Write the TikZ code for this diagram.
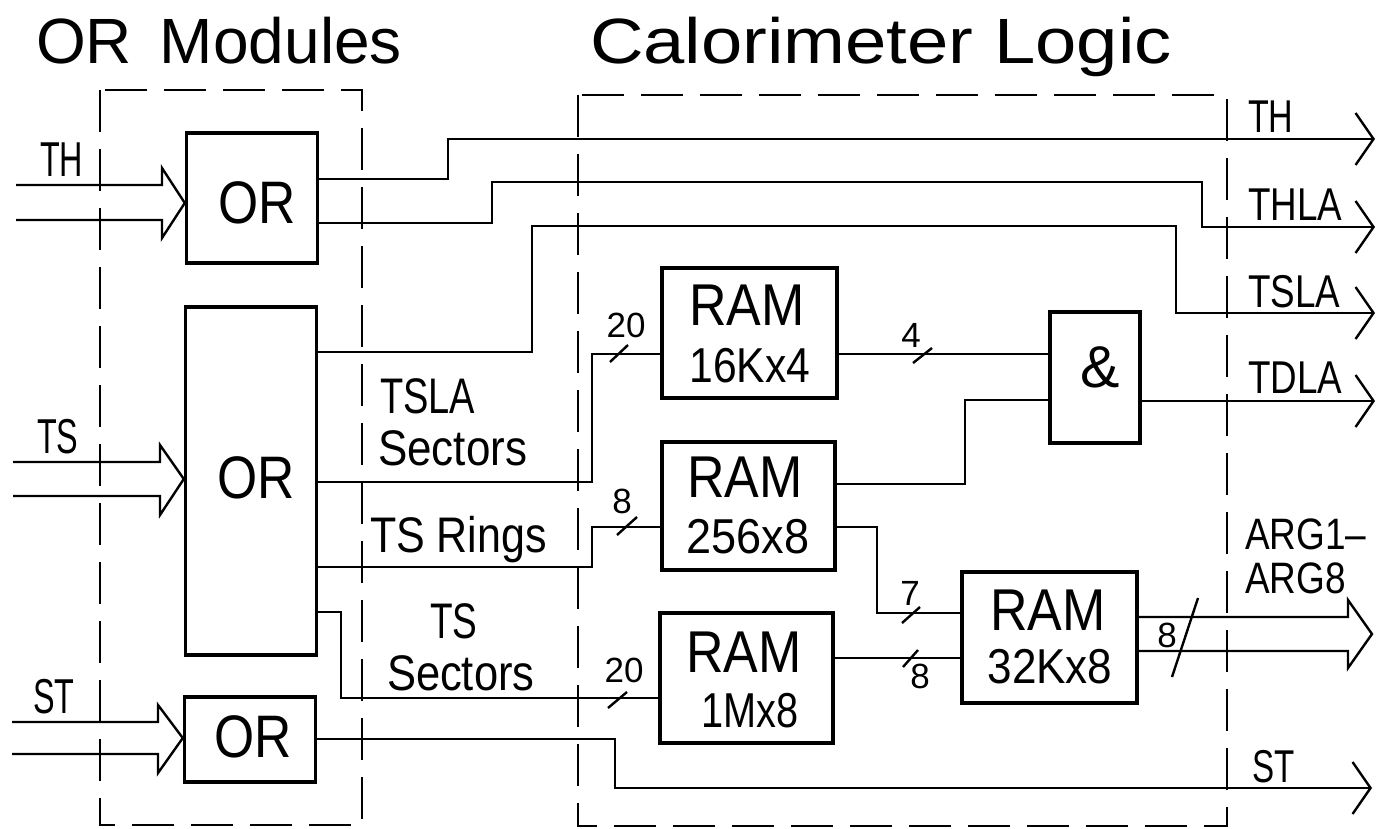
\documentclass[tikz,border=0pt]{standalone}
\usepackage{fontspec}
\setmainfont{Liberation Sans}
\usepackage{graphicx}
\usetikzlibrary{arrows.meta}
\newcommand\hsc[2]{\scalebox{#1}[1]{#2}}
\begin{document}
\begin{tikzpicture}[x=1pt,y=-1pt,
  blk/.style={draw,line width=3.4pt,inner sep=0pt},
  sig/.style={line width=2.4pt},
  oarr/.style={sig,-{Straight Barb[length=18pt,width=52pt,line width=2.4pt]}},
  frame/.style={line width=2.6pt,dash pattern=on 42pt off 17pt},
  t/.style={inner sep=0pt,outer sep=0pt},
  fTitle/.style={t,font=\fontsize{64}{64}\selectfont},
  fOR/.style={t,font=\fontsize{60}{60}\selectfont},
  fRAM/.style={t,font=\fontsize{59}{59}\selectfont},
  fSub/.style={t,font=\fontsize{49}{49}\selectfont},
  fLab/.style={t,font=\fontsize{50}{50}\selectfont},
  fOut/.style={t,font=\fontsize{46}{46}\selectfont},
  fArg/.style={t,font=\fontsize{44}{44}\selectfont},
  fIn/.style={t,font=\fontsize{49}{49}\selectfont},
  fNum/.style={t,font=\fontsize{35}{35}\selectfont},
]
\fill[white] (0,0) rectangle (1378,829);
\useasboundingbox (0,0) rectangle (1378,829);

% dashed frames
\draw[frame] (100,90) rectangle (362,825);
\draw[frame] (578,95) rectangle (1227,826);

% titles
\node[fTitle,anchor=base west] (tOR) at (36,64) {\hsc{1.0}{OR\hspace{28pt}Modules}};
\node[fTitle,anchor=base west] (tCal) at (590,64) {\hsc{1.16}{Calorimeter Logic}};

% boxes
\node[blk,minimum width=131pt,minimum height=130pt] (OR1) at (252,198) {};
\node[blk,minimum width=131pt,minimum height=348pt] (OR2) at (251,481) {};
\node[blk,minimum width=131pt,minimum height=85pt] (OR3) at (250,739.5) {};
\node[blk,minimum width=175pt,minimum height=130pt] (R1) at (749.5,333) {};
\node[blk,minimum width=173pt,minimum height=128pt] (R2) at (748.5,506) {};
\node[blk,minimum width=173pt,minimum height=130pt] (R3) at (746.5,678) {};
\node[blk,minimum width=175pt,minimum height=131pt] (R4) at (1049.5,637.5) {};
\node[blk,minimum width=90pt,minimum height=131pt] (AND) at (1095,377.5) {};

% box texts
\node[fOR,anchor=base] (tOR1) at (257,223) {\hsc{.86}{OR}};
\node[fOR,anchor=base] (tOR2) at (256,498) {\hsc{.86}{OR}};
\node[fOR,anchor=base] (tOR3) at (253,757) {\hsc{.86}{OR}};
\node[fRAM,anchor=base] (tR1a) at (747,325) {\hsc{.88}{RAM}};
\node[fSub,anchor=base] (tR1b) at (750,382) {\hsc{.87}{16Kx4}};
\node[fRAM,anchor=base] (tR2a) at (745,497) {\hsc{.88}{RAM}};
\node[fSub,anchor=base] (tR2b) at (748,553) {\hsc{.92}{256x8}};
\node[fRAM,anchor=base] (tR3a) at (744,672) {\hsc{.88}{RAM}};
\node[fSub,anchor=base] (tR3b) at (750,727) {\hsc{.81}{1Mx8}};
\node[fRAM,anchor=base] (tR4a) at (1048,630) {\hsc{.88}{RAM}};
\node[fSub,anchor=base] (tR4b) at (1050,683) {\hsc{.9}{32Kx8}};
\node[fRAM,anchor=base] (tAND) at (1100,387) {\&};

% input labels
\node[fIn,anchor=base west] (lTH) at (40,177) {\hsc{.66}{TH}};
\node[fIn,anchor=base west] (lTS) at (37,453) {\hsc{.66}{TS}};
\node[fIn,anchor=base west] (lST) at (33,713) {\hsc{.66}{ST}};

% middle labels
\node[fLab,anchor=base west] (m1) at (380,413) {\hsc{.76}{TSLA}};
\node[fLab,anchor=base west] (m2) at (378,465) {\hsc{.88}{Sectors}};
\node[fLab,anchor=base west] (m3) at (370,552) {\hsc{.86}{TS Rings}};
\node[fLab,anchor=base west] (m4) at (430,638) {\hsc{.74}{TS}};
\node[fLab,anchor=base west] (m5) at (387,690) {\hsc{.87}{Sectors}};

% output labels
\node[fOut,anchor=base west] (oL1) at (1248,133) {\hsc{.74}{TH}};
\node[fOut,anchor=base west] (oL2) at (1248,220) {\hsc{.8}{THLA}};
\node[fOut,anchor=base west] (oL3) at (1248,307) {\hsc{.8}{TSLA}};
\node[fOut,anchor=base west] (oL4) at (1248,393) {\hsc{.8}{TDLA}};
\node[fArg,anchor=base west] (oL5) at (1245,549) {\hsc{.84}{ARG1–}};
\node[fArg,anchor=base west] (oL6) at (1245,593) {\hsc{.84}{ARG8}};
\node[fOut,anchor=base west] (oL7) at (1252,782) {\hsc{.72}{ST}};

% free ends
\coordinate (oTH) at (1375,139);
\coordinate (oTHLA) at (1375,227);
\coordinate (oTSLA) at (1375,313);
\coordinate (oTDLA) at (1375,401);
\coordinate (oST) at (1372,788);
\coordinate (oARG) at (1372,634);
\coordinate (iTHa) at (16,185);
\coordinate (iTHb) at (16,220);
\coordinate (iTSa) at (13,462);
\coordinate (iTSb) at (13,496);
\coordinate (iSTa) at (12,722);
\coordinate (iSTb) at (12,754);

% inputs (hollow bus arrows)
\draw[sig] (iTHa) -- (162,185) -- (162,168) -- (OR1.west |- 0,203) -- (162,238) -- (162,220) -- (iTHb);
\draw[sig] (iTSa) -- (160,462) -- (160,445) -- (OR2.west |- 0,479) -- (160,515) -- (160,496) -- (iTSb);
\draw[sig] (iSTa) -- (158,722) -- (158,705) -- (OR3.west |- 0,738) -- (158,773) -- (158,754) -- (iSTb);

% connectors
\draw[oarr] (OR1.east |- 0,179) -- (448,179) -- (448,139) -- (oTH);
\draw[oarr] (OR1.east |- 0,223) -- (492,223) -- (492,182) -- (1202,182) -- (1202,227) -- (oTHLA);
\draw[oarr] (OR2.east |- 0,352) -- (532,352) -- (532,226) -- (1176,226) -- (1176,313) -- (oTSLA);
\draw[sig] (OR2.east |- 0,482) -- (592,482) -- (592,354) -- (R1.west |- 0,354);
\draw[sig] (OR2.east |- 0,567) -- (592,567) -- (592,527) -- (R2.west |- 0,527);
\draw[sig] (OR2.east |- 0,612) -- (341,612) -- (341,698) -- (R3.west |- 0,698);
\draw[oarr] (OR3.east |- 0,739) -- (615,739) -- (615,788) -- (oST);
\draw[sig] (R1.east |- 0,354) -- (AND.west |- 0,354);
\draw[sig] (R2.east |- 0,484) -- (965,484) -- (965,400) -- (AND.west |- 0,400);
\draw[oarr] (AND.east |- 0,401) -- (oTDLA);
\draw[sig] (R2.east |- 0,527) -- (877,527) -- (877,613) -- (R4.west |- 0,613);
\draw[sig] (R3.east |- 0,658) -- (R4.west |- 0,658);
\draw[sig] (R4.east |- 0,617) -- (1348,617) -- (1348,600) -- (oARG) -- (1348,668) -- (1348,651) -- (R4.east |- 0,651);

% bus-width slashes
\draw[sig] (610,362) -- (628,345);
\draw[sig] (913,363) -- (932,348);
\draw[sig] (617,535) -- (637,517);
\draw[sig] (902,623) -- (920,607);
\draw[sig] (608,708) -- (627,692);
\draw[sig] (903,667) -- (918,650);
\draw[sig] (1172,677) -- (1198,598);

% bus widths
\node[fNum,anchor=base] (n1) at (626,337) {20};
\node[fNum,anchor=base] (n2) at (911,347) {4};
\node[fNum,anchor=base] (n3) at (622,513) {8};
\node[fNum,anchor=base] (n4) at (910,605) {7};
\node[fNum,anchor=base] (n5) at (624,682) {20};
\node[fNum,anchor=base] (n6) at (920,688) {8};
\node[fNum,anchor=base] (n7) at (1167,647) {8};
\end{tikzpicture}
\end{document}
